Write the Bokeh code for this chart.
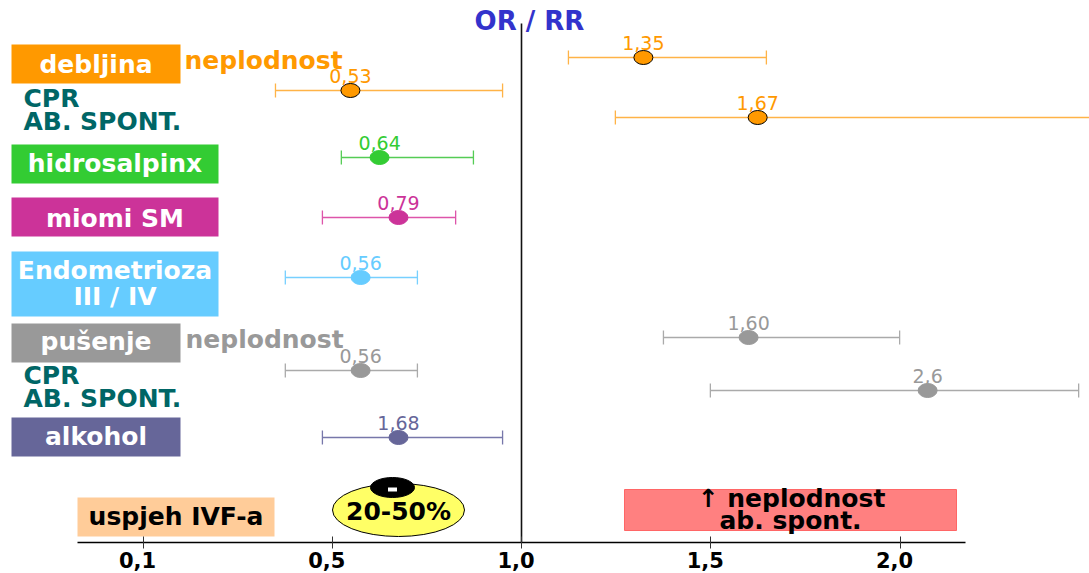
from bokeh.plotting import figure
from bokeh.models import ColumnDataSource, Range1d, LinearAxis, FixedTicker
from bokeh.core.properties import value
from bokeh.embed import file_html
from bokeh.resources import INLINE

# ---------------- data ----------------
value_labels = ["1,35", "0,53", "1,67", "0,64", "0,79", "0,56", "1,60", "0,56", "2,6", "1,68"]
estimate = [1.322, 0.548, 1.624, 0.625, 0.675, 0.575, 1.600, 0.575, 2.073, 0.675]
ci_low = [1.124, 0.350, 1.248, 0.524, 0.474, 0.376, 1.375, 0.376, 1.499, 0.474]
ci_high = [1.647, 0.950, 2.600, 0.873, 0.826, 0.725, 1.999, 0.725, 2.472, 0.950]
factor = ["debljina", "debljina", "debljina", "hidrosalpinx", "miomi SM",
          "Endometrioza", "pušenje", "pušenje", "pušenje", "alkohol"]

tick_values = [0.0, 0.5, 1.0, 1.5, 2.0]
tick_labels = ["0,1", "0,5", "1,0", "1,5", "2,0"]

# ---------------- styles / layout ----------------
point_color = {"debljina": "#FF9900", "hidrosalpinx": "#33CC33", "miomi SM": "#CC3399",
               "Endometrioza": "#66CCFF", "pušenje": "#999999", "alkohol": "#666699"}
line_color = {"debljina": "#FFB347", "hidrosalpinx": "#55CC55", "miomi SM": "#DD55AA",
              "Endometrioza": "#77D0FF", "pušenje": "#AAAAAA", "alkohol": "#7777AA"}
row_y = [57, 90, 117, 157, 217, 277, 337, 370, 390, 437]   # vertical layout of rows

W, H = 1089, 573
X_ONE, PX_PER_U = 521.0, 378.5
TY = -8   # text baseline correction observed in rendering
LABEL_SHIFT = -5.5 / PX_PER_U   # tick labels sit slightly left of their ticks


def px2u(px):
    return 1.0 + (px - X_ONE) / PX_PER_U


FONT = value("DejaVu Sans")

p = figure(width=W, height=H, x_range=Range1d(px2u(0), px2u(W)),
           y_range=Range1d(start=H, end=0),
           x_axis_type=None, y_axis_type=None, toolbar_location=None,
           output_backend="svg", min_border=0, outline_line_color=None)

# ---------------- left category boxes ----------------
boxes = [  # label lines, left, right, top, bottom, colour, baselines
    (["debljina"], 11, 180, 44, 83, "#FF9900", [72]),
    (["hidrosalpinx"], 11, 218, 144, 183, "#33CC33", [171]),
    (["miomi SM"], 11, 218, 197, 236, "#CC3399", [226]),
    (["Endometrioza", "III / IV"], 11, 218, 251, 316, "#66CCFF", [278, 304]),
    (["pušenje"], 11, 180, 323, 362, "#999999", [349]),
    (["alkohol"], 11, 180, 417, 456, "#666699", [444]),
]
p.quad(left=[px2u(b[1]) for b in boxes], right=[px2u(b[2]) for b in boxes],
       top=[b[3] for b in boxes], bottom=[b[4] for b in boxes],
       fill_color=[b[5] for b in boxes], line_color=None)
bx, by, bt = [], [], []
for b in boxes:
    for t, base in zip(b[0], b[6]):
        bx.append(px2u((b[1] + b[2]) / 2))
        by.append(base + TY)
        bt.append(t)
p.text(x=bx, y=by, text=bt, text_align="center", text_baseline="alphabetic",
       text_color="white", text_font=FONT, text_font_style="bold", text_font_size="25px")

# side texts
side = [("neplodnost", 184, 68, "#FF9900"), ("CPR", 23, 106, "#006666"),
        ("AB. SPONT.", 23, 129, "#006666"), ("neplodnost", 185, 347, "#999999"),
        ("CPR", 23, 383, "#006666"), ("AB. SPONT.", 23, 406, "#006666")]
p.text(x=[px2u(s[1]) for s in side], y=[s[2] + TY for s in side], text=[s[0] for s in side],
       text_color=[s[3] for s in side], text_align="left", text_baseline="alphabetic",
       text_font=FONT, text_font_style="bold", text_font_size="25px")

# ---------------- reference line at 1,0 and title ----------------
p.segment(x0=[1.0], y0=[23], x1=[1.0], y1=[542], line_color="#111111", line_width=1.6)
p.text(x=[px2u(529)], y=[28 + TY], text=["OR / RR"], text_align="center",
       text_baseline="alphabetic", text_color="#3333CC", text_font=FONT,
       text_font_style="bold", text_font_size="26px")

# ---------------- forest rows ----------------
src = ColumnDataSource(dict(
    est=estimate, lo=ci_low, hi=ci_high, lab=value_labels, y=row_y,
    cap_top=[y - 7 for y in row_y], cap_bot=[y + 7 for y in row_y],
    lab_y=[y - 7 + TY for y in row_y],
    pcol=[point_color[f] for f in factor], lcol=[line_color[f] for f in factor],
    ocol=["black" if f == "debljina" else point_color[f] for f in factor],
))
p.segment(x0="lo", y0="y", x1="hi", y1="y", line_color="lcol", line_width=1.3, source=src)
p.segment(x0="lo", y0="cap_top", x1="lo", y1="cap_bot", line_color="lcol", line_width=1.3, source=src)
p.segment(x0="hi", y0="cap_top", x1="hi", y1="cap_bot", line_color="lcol", line_width=1.3, source=src)
p.ellipse(x="est", y="y", width=19, height=14, width_units="screen", height_units="screen",
          fill_color="pcol", line_color="ocol", line_width=1, source=src)
p.text(x="est", y="lab_y", text="lab", text_color="pcol", text_align="center",
       text_baseline="alphabetic", text_font=FONT, text_font_size="19px", source=src)

# ---------------- bottom annotations ----------------
p.quad(left=[px2u(77)], right=[px2u(274)], top=[497], bottom=[536],
       fill_color="#FFCC99", line_color=None)
p.text(x=[px2u(175.5)], y=[524 + TY], text=["uspjeh IVF-a"], text_align="center",
       text_baseline="alphabetic", text_color="black", text_font=FONT,
       text_font_style="bold", text_font_size="25px")

p.ellipse(x=[px2u(398)], y=[509.5], width=132, height=53, width_units="screen",
          height_units="screen", fill_color="#FFFF66", line_color="black", line_width=1)
p.ellipse(x=[px2u(392)], y=[487], width=44, height=20, width_units="screen",
          height_units="screen", fill_color="black", line_color="black")
p.rect(x=[px2u(392)], y=[489], width=9, height=4, width_units="screen",
       height_units="screen", fill_color="white", line_color=None)
p.text(x=[px2u(398)], y=[519 + TY], text=["20-50%"], text_align="center",
       text_baseline="alphabetic", text_color="black", text_font=FONT,
       text_font_style="bold", text_font_size="25px")

p.quad(left=[px2u(624)], right=[px2u(956)], top=[489], bottom=[530],
       fill_color="#FF8080", line_color="#FF6666", line_width=1)
p.text(x=[px2u(791), px2u(790)], y=[506 + TY, 528 + TY], text=["↑ neplodnost", "ab. spont."],
       text_align="center", text_baseline="alphabetic", text_color="black",
       text_font=FONT, text_font_style="bold", text_font_size="25px")

# ---------------- x axis (line + ticks) ----------------
ax = LinearAxis(ticker=FixedTicker(ticks=tick_values),
                fixed_location=542, bounds=(px2u(77), px2u(965)),
                axis_line_color="black", axis_line_width=1.5,
                major_tick_in=6, major_tick_out=6, major_tick_line_color="#333333",
                minor_tick_line_color=None, major_label_text_color=None)
p.add_layout(ax, "below")

# tick labels, drawn by a second axis slightly left of the ticks (as in the picture)
label_pos = [t + LABEL_SHIFT for t in tick_values]
lab_ax = LinearAxis(ticker=FixedTicker(ticks=label_pos),
                    major_label_overrides={t: l for t, l in zip(label_pos, tick_labels)},
                    fixed_location=542, axis_line_color=None,
                    major_tick_line_color=None, minor_tick_line_color=None,
                    major_tick_in=0, major_tick_out=6, major_label_standoff=3,
                    major_label_text_font="DejaVu Sans", major_label_text_font_style="bold",
                    major_label_text_font_size="21px", major_label_text_color="black")
p.add_layout(lab_ax, "below")

open("out.html", "w").write(file_html(p, INLINE))
